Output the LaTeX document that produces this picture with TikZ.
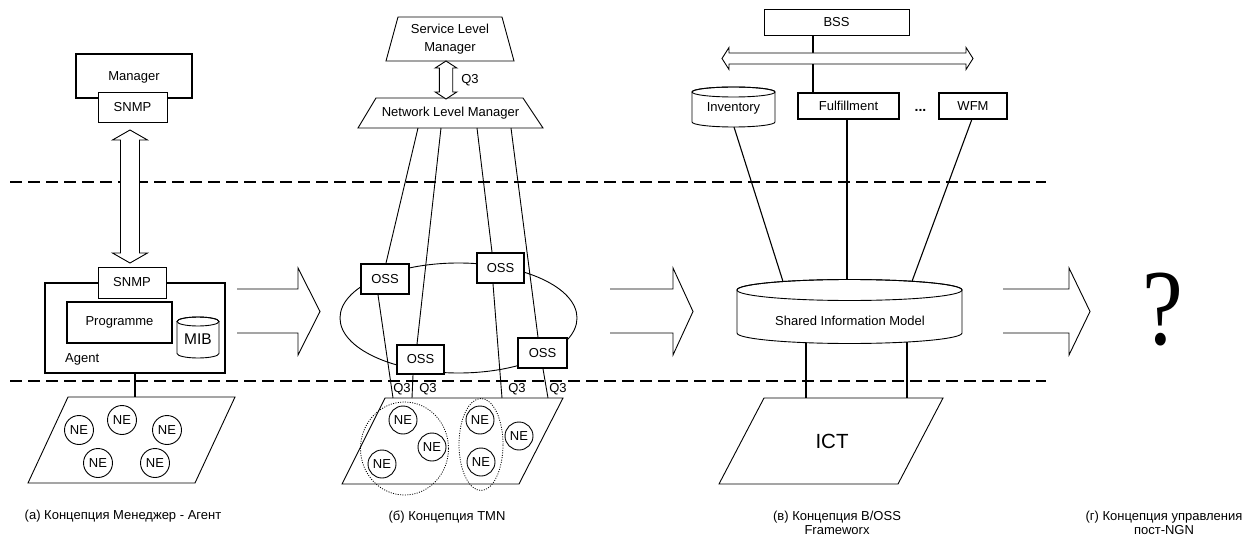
\documentclass[tikz,border=0pt]{standalone}
\usepackage{fontspec}
\usepackage{graphicx}
\setmainfont{Liberation Sans}
\newfontfamily\qfont{Liberation Serif}
\usetikzlibrary{calc}
\newcommand\fs{\fontsize{13}{14}\selectfont}
\newcommand\vdarrow[6]{% x, ytop, ybot, shaft half, head half, head length
  \draw[thinln, fill=white] ({#1-#4},{#2+#6}) -- ({#1-#5},{#2+#6}) -- (#1,#2) -- ({#1+#5},{#2+#6}) -- ({#1+#4},{#2+#6}) -- ({#1+#4},{#3-#6}) -- ({#1+#5},{#3-#6}) -- (#1,#3) -- ({#1-#5},{#3-#6}) -- ({#1-#4},{#3-#6}) -- cycle;}
\newcommand\hdarrow[6]{% y, xleft, xright, shaft half, head half, head length
  \draw[thinln, fill=white] ({#2+#6},{#1-#4}) -- ({#2+#6},{#1-#5}) -- (#2,#1) -- ({#2+#6},{#1+#5}) -- ({#2+#6},{#1+#4}) -- ({#3-#6},{#1+#4}) -- ({#3-#6},{#1+#5}) -- (#3,#1) -- ({#3-#6},{#1-#5}) -- ({#3-#6},{#1-#4}) -- cycle;}
\newcommand\flowarrow[3]{% x start, x head base, x tip
  \draw[thinln, fill=white] (#1,289) -- (#2,289) -- (#2,268) -- (#3,311.5) -- (#2,355) -- (#2,333) -- (#1,333);}
\newcommand\cylshape[5]{% cx, ytop, ybot, rx, ry
  \draw[thinln, fill=white] ({#1-#4},{#2+#5}) -- ({#1-#4},{#3-#5}) arc[start angle=180, end angle=360, x radius=#4pt, y radius=#5pt] -- ({#1+#4},{#2+#5}) arc[start angle=0, end angle=180, x radius=#4pt, y radius=#5pt] -- cycle;
  \draw[thinln] (#1,{#2+#5}) ellipse[x radius=#4pt, y radius=#5pt];}
\begin{document}
\begin{tikzpicture}[x=1pt, y=-1pt,
  thinln/.style={line width=0.9pt},
  thickln/.style={line width=1.7pt},
  box/.style={draw, fill=white, thinln, inner sep=0pt, font=\fs},
  tbox/.style={box, thickln},
  lbl/.style={font=\fs, inner sep=0pt},
  necirc/.style={circle, draw, thinln, fill=white, minimum size=29pt, inner sep=0pt, font=\fs},
  dashln/.style={line width=1.8pt, dash pattern=on 12pt off 6pt},
  dotln/.style={line width=0.8pt, dash pattern=on 1pt off 1.4pt}]
\useasboundingbox (0,0) rectangle (1255,540);

% level separators
\coordinate (d1l) at (10,182); \coordinate (d1r) at (1046,182);
\coordinate (d2l) at (10,381); \coordinate (d2r) at (1046,381);
\draw[dashln] (d1l) -- (d1r);
\draw[dashln] (d2l) -- (d2r);

% ---------------- panel (a)
\node[tbox, minimum width=116pt, minimum height=44pt] (mgr) at (134,76) {};
\node[lbl] (mgrtxt) at (134,77) {Manager};
\node[box, minimum width=69pt, minimum height=30pt] (msnmp) at (132.5,107) {SNMP};
\vdarrow{130}{130}{263}{9.5}{17.5}{10}
\node[tbox, minimum width=180pt, minimum height=90pt] (agent) at (135,328) {};
\node[box, minimum width=68pt, minimum height=31pt] (asnmp) at (132,282.5) {SNMP};
\node[tbox, minimum width=105pt, minimum height=41pt] (prog) at (119.5,322.5) {Programme};
\cylshape{198}{317}{358}{21}{4.5}
\node[lbl, font=\fontsize{15.5}{15.5}\selectfont] (mib) at (198,339) {MIB};
\node[lbl, anchor=west] (agtxt) at (65,359) {Agent};
\coordinate (pa) at (135,397);
\draw[thickln] (agent.south) -- (pa);
\draw[thinln] (28,483) -- (68,397) -- (235,397) -- (195,483) -- cycle;
\node[necirc] (a1) at (79,430) {NE};
\node[necirc] (a2) at (122,420) {NE};
\node[necirc] (a3) at (167,430) {NE};
\node[necirc] (a4) at (98,463) {NE};
\node[necirc] (a5) at (155,463) {NE};
\node[lbl] (capa) at (123,516) {(а) Концепция Менеджер - Агент};

\flowarrow{237}{298}{320}

% ---------------- panel (b)
\draw[thinln] (386,61) -- (398,17) -- (502,17) -- (514,61) -- cycle;
\node[lbl, align=center, font=\fontsize{13}{17.5}\selectfont] (slm) at (450,39) {Service Level\\Manager};
\draw[thinln] (358,128) -- (376,98) -- (523,98) -- (543,128) -- cycle;
\node[lbl] (nlm) at (450.5,113) {Network Level Manager};
\vdarrow{446}{61}{99}{6.7}{10.8}{7}
\node[lbl] (q3top) at (470,80) {Q3};

\draw[thinln] (458.5,318) ellipse[x radius=118.5pt, y radius=55pt];

\coordinate (n1) at (418,128); \coordinate (n2) at (441,128);
\coordinate (n3) at (477,128); \coordinate (n4) at (511,128);
\coordinate (q1) at (393,398); \coordinate (q2) at (412,398);
\coordinate (q3) at (502,398); \coordinate (q4) at (548,398);

\node[tbox, minimum width=48pt, minimum height=30pt] (oss1) at (385,279) {OSS};
\node[tbox, minimum width=47pt, minimum height=30pt] (oss2) at (500.5,268) {OSS};
\node[tbox, minimum width=47pt, minimum height=29pt] (oss3) at (420.5,359.5) {OSS};
\node[tbox, minimum width=49pt, minimum height=30pt] (oss4) at (542.5,353) {OSS};

\draw[thinln] (n1) -- ([xshift=1pt]oss1.north);
\draw[thinln] ([xshift=-7pt]oss1.south) -- (q1);
\draw[thinln] (n2) -- ([xshift=-3.5pt]oss3.north);
\draw[thinln] ([xshift=-7.5pt]oss3.south) -- (q2);
\draw[thinln] (n3) -- ([xshift=-8.5pt]oss2.north);
\draw[thinln] ([xshift=-7.5pt]oss2.south) -- (q3);
\draw[thinln] (n4) -- ([xshift=-4.5pt]oss4.north);
\draw[thinln] ([xshift=0.5pt]oss4.south) -- (q4);

\node[lbl] (lq1) at (402,389) {Q3};
\node[lbl] (lq2) at (428,389) {Q3};
\node[lbl] (lq3) at (517,389) {Q3};
\node[lbl] (lq4) at (558,389) {Q3};

\draw[thinln] (342,484) -- (385,398) -- (563,398) -- (519,484) -- cycle;
\node[necirc, minimum size=28pt] (b1) at (403,420) {NE};
\node[necirc, minimum size=28pt] (b2) at (432,447) {NE};
\node[necirc, minimum size=28pt] (b3) at (382,464) {NE};
\node[necirc, minimum size=28pt] (b4) at (480,420) {NE};
\node[necirc, minimum size=28pt] (b5) at (481,462) {NE};
\node[necirc, minimum size=28pt] (b6) at (519,436) {NE};
\draw[dotln] (404.5,448.5) ellipse[x radius=44pt, y radius=46.5pt];
\draw[dotln] (481,444.5) ellipse[x radius=22pt, y radius=46pt];
\node[lbl] (capb) at (447,517) {(б) Концепция TMN};

\flowarrow{610}{673}{693}

% ---------------- panel (c)
\node[box, minimum width=145pt, minimum height=26pt] (bss) at (836.5,22) {BSS};
\node[tbox, minimum width=101pt, minimum height=26pt] (ful) at (848.5,106) {Fulfillment};
\node[tbox, minimum width=68pt, minimum height=26pt] (wfm) at (973,106) {WFM};
\draw[thickln] (bss.south -| 813,0) -- (ful.north -| 813,0);
\hdarrow{58.5}{722}{973}{5.5}{11}{7}
\cylshape{733.5}{87}{127}{41.5}{5}
\node[lbl] (inv) at (733.5,108) {Inventory};
\node[lbl, font=\bfseries\fontsize{14}{14}\selectfont] (dots) at (920.5,110) {...};

\cylshape{849.5}{279.5}{343.5}{112.5}{10.5}
\node[lbl] (sim) at (850,321) {Shared Information Model};
\coordinate (s1) at (783,281.5); \coordinate (s2) at (847,279.5); \coordinate (s3) at (912,281.3);
\coordinate (i1) at (734,127); \coordinate (w1) at (972,119);
\draw[thinln, line width=1.1pt] (i1) -- (s1);
\draw[thickln] (ful.south -| 847,0) -- (s2);
\draw[thinln, line width=1.1pt] (w1) -- (s3);

\coordinate (sb1) at (806,342.7); \coordinate (sb2) at (907,342);
\coordinate (t1) at (806,398); \coordinate (t2) at (907,398);
\draw[thickln] (sb1) -- (t1);
\draw[line width=1.3pt] (sb2) -- (t2);
\draw[thinln] (719,484) -- (764,398) -- (943,398) -- (898,484) -- cycle;
\node[lbl, font=\fontsize{20.5}{20.5}\selectfont] (ict) at (832,441) {ICT};
\node[lbl, align=center] (capc) at (837,522.5) {(в) Концепция B/OSS\\Frameworx};

\flowarrow{1003}{1069}{1090}

% ---------------- panel (d)
\node[inner sep=0pt] (qm) at (1163,309.5) {\scalebox{0.85}[1]{\qfont\fontsize{108}{108}\selectfont ?}};
\node[lbl, align=center] (capd) at (1164,522.5) {(г) Концепция управления\\пост-NGN};
\end{tikzpicture}
\end{document}
